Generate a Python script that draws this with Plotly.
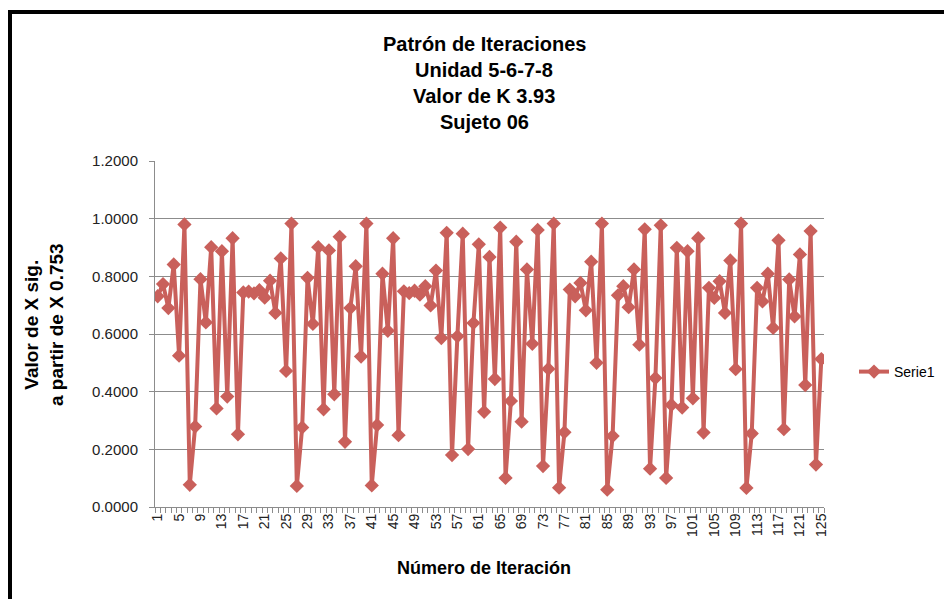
import plotly.graph_objects as go

# Valores (iteraciones 1..125)
iteraciones = list(range(1, 126))
valores_x = [
    0.731, 0.773, 0.690, 0.841, 0.525, 0.980, 0.077, 0.279, 0.790, 0.640,
    0.901, 0.342, 0.887, 0.383, 0.932, 0.252, 0.744, 0.747, 0.741, 0.752,
    0.726, 0.785, 0.673, 0.862, 0.472, 0.983, 0.073, 0.276, 0.795, 0.635,
    0.901, 0.339, 0.890, 0.391, 0.937, 0.226, 0.690, 0.835, 0.522, 0.983,
    0.075, 0.284, 0.809, 0.611, 0.932, 0.249, 0.748, 0.742, 0.750, 0.737,
    0.766, 0.699, 0.820, 0.586, 0.951, 0.180, 0.592, 0.948, 0.201, 0.638,
    0.911, 0.330, 0.867, 0.444, 0.969, 0.101, 0.368, 0.920, 0.296, 0.824,
    0.566, 0.961, 0.142, 0.479, 0.983, 0.067, 0.259, 0.754, 0.731, 0.777,
    0.682, 0.851, 0.500, 0.983, 0.060, 0.246, 0.734, 0.766, 0.693, 0.824,
    0.563, 0.963, 0.133, 0.447, 0.977, 0.101, 0.354, 0.899, 0.345, 0.887,
    0.377, 0.932, 0.258, 0.760, 0.725, 0.783, 0.673, 0.855, 0.478, 0.983,
    0.066, 0.255, 0.760, 0.713, 0.809, 0.621, 0.925, 0.270, 0.789, 0.661,
    0.876, 0.423, 0.957, 0.147, 0.513,
]
x_tickvals = list(range(1, 126, 4))
y_tickvals = [0.0, 0.2, 0.4, 0.6, 0.8, 1.0, 1.2]

title_lines = ['Patrón de Iteraciones', 'Unidad 5-6-7-8', 'Valor de K 3.93', 'Sujeto 06']

W, H = 952, 599
OFF = 8                            # page body margin
L, R, T, B = 155, 824, 161, 507    # plot area in screen pixels


def px_x(px):
    return (px - L) / (R - L)


def px_y(py):
    return (B - py) / (B - T)


RED = '#C9605B'
GRID = '#8C8C8C'
FONT = 'Liberation Sans'

fig = go.Figure()

fig.add_trace(go.Scatter(
    x=iteraciones, y=valores_x,
    mode='lines+markers',
    name='Serie1',
    line=dict(color=RED, width=4),
    marker=dict(symbol='diamond', size=11, color=RED),
))

fig.update_xaxes(
    range=[0.5, 125.5],
    tickmode='array',
    tickvals=x_tickvals,
    ticktext=[str(v) for v in x_tickvals],
    tickangle=-90,
    ticks='',
    showgrid=False,
    showline=True, linecolor=GRID, linewidth=1,
    zeroline=False,
    tickfont=dict(family=FONT, size=14, color='#222'),
    minor=dict(tickmode='linear', tick0=0.5, dtick=1, ticks='outside',
               ticklen=5, tickcolor=GRID, tickwidth=1, showgrid=False),
)

fig.update_yaxes(
    range=[0, 1.2],
    tickvals=y_tickvals,
    tickformat='.4f',
    ticks='outside', ticklen=5, tickcolor=GRID,
    ticklabelstandoff=8,
    showgrid=True, gridcolor=GRID, gridwidth=1,
    showline=True, linecolor=GRID, linewidth=1,
    zeroline=False,
    tickfont=dict(family=FONT, size=15, color='#222'),
)

annotations = []
for i, line in enumerate(title_lines):
    annotations.append(dict(
        text='<b>%s</b>' % line, x=px_x(484), y=px_y(44 + 26 * i),
        xref='paper', yref='paper', showarrow=False,
        xanchor='center', yanchor='middle',
        font=dict(family=FONT, size=20, color='black'),
    ))

annotations.append(dict(
    text='<b>Valor de X sig.<br>a partir de X 0.753</b>',
    x=px_x(44), y=px_y(325), xref='paper', yref='paper', showarrow=False,
    xanchor='center', yanchor='middle', textangle=-90,
    font=dict(family=FONT, size=19, color='black'),
))
annotations.append(dict(
    text='<b>Número de Iteración</b>',
    x=px_x(484), y=px_y(568), xref='paper', yref='paper', showarrow=False,
    xanchor='center', yanchor='middle',
    font=dict(family=FONT, size=18, color='black'),
))

fig.update_layout(
    width=W, height=H,
    margin=dict(l=L - OFF, r=W - (R - OFF), t=T - OFF, b=H - (B - OFF),
                autoexpand=False),
    paper_bgcolor='white', plot_bgcolor='white',
    showlegend=True,
    legend=dict(x=px_x(854), y=px_y(372), xanchor='left', yanchor='middle',
                font=dict(family=FONT, size=14, color='black'),
                bgcolor='rgba(0,0,0,0)'),
    annotations=annotations,
    shapes=[dict(type='rect', xref='paper', yref='paper',
                 x0=px_x(10), x1=px_x(1100), y0=px_y(800), y1=px_y(12),
                 line=dict(color='black', width=4))],
)

fig.write_html('out.html')
